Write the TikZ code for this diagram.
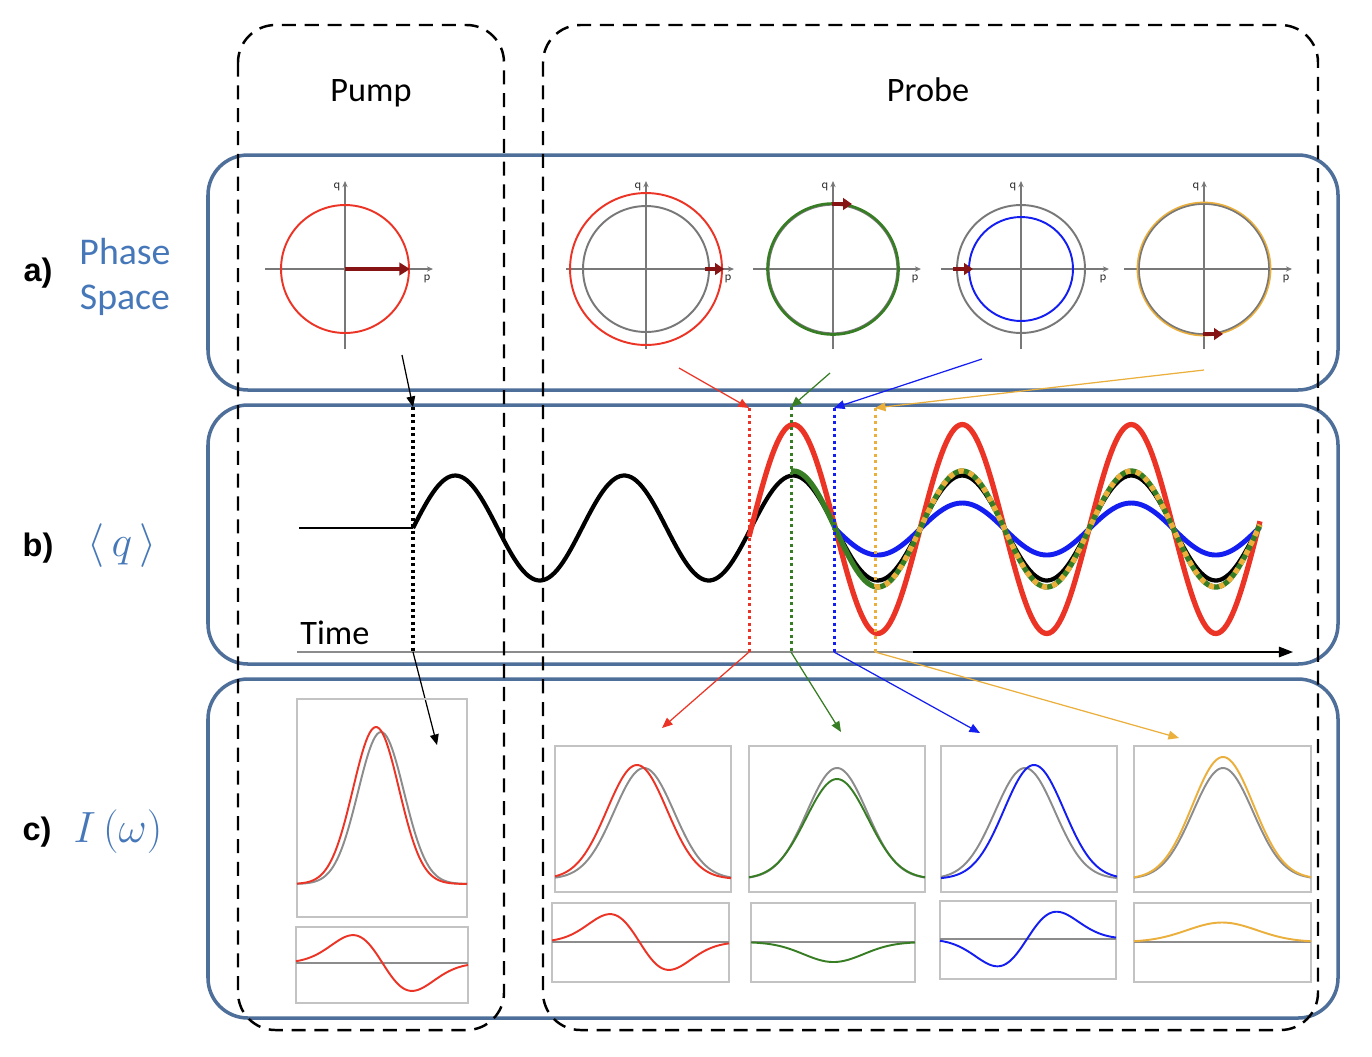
\documentclass[tikz,border=0pt]{standalone}
\usepackage{fontspec}
\setmainfont{Carlito}
\newfontfamily\arialfont{Liberation Sans}
\usetikzlibrary{arrows.meta}
\definecolor{boxblue}{RGB}{78,111,153}
\definecolor{txtblue}{RGB}{70,120,185}
\definecolor{myred}{RGB}{236,52,38}
\definecolor{dred}{RGB}{135,20,20}
\definecolor{mygreen}{RGB}{55,125,35}
\definecolor{myblue}{RGB}{20,30,240}
\definecolor{myorange}{RGB}{235,175,60}
\definecolor{axgray}{RGB}{120,120,120}
\definecolor{curvegray}{RGB}{140,140,140}
\definecolor{framegray}{RGB}{195,195,195}
\newcommand{\phaxes}[3]{%
  \draw[axis] (#1-80,#2) -- (#1+88,#2);
  \draw[axis] (#1,#2+80) -- (#1,#2-88);
  \node[smalllab] (q#3) at (#1-8,#2-82) {q};
  \node[smalllab] (p#3) at (#1+82,#2+10) {p};
}
\begin{document}
\begin{tikzpicture}[x=0.02cm, y=-0.02cm,
  bluebox/.style={draw=boxblue, line width=2pt, rounded corners=0.8cm},
  dashbox/.style={draw=black, line width=1.4pt, dash pattern=on 8pt off 5pt, rounded corners=0.75cm},
  axis/.style={draw=axgray, line width=0.6pt, -{Stealth[length=3.5pt,width=3pt]}},
  smalllab/.style={font=\sffamily\fontsize{7}{8}\selectfont, text=black!80, inner sep=0pt},
  ring/.style={line width=1.1pt},
  darr/.style={draw=dred, line width=2.4pt, -{Triangle[length=6pt,width=7pt]}},
  darrs/.style={draw=dred, line width=2.2pt, -{Triangle[length=5pt,width=6.5pt]}},
  conn/.style={line width=0.7pt, -{Triangle[length=6pt,width=5pt]}},
  vdot/.style={line width=1.7pt, dash pattern=on 1.7pt off 2pt},
  frame/.style={draw=framegray, line width=0.9pt},
  gcurve/.style={draw=curvegray, line width=1.1pt},
  ccurve/.style={line width=1.1pt},
  bigtxt/.style={font=\fontsize{19.5}{22}\selectfont, inner sep=0pt},
  lettxt/.style={font=\arialfont\bfseries\fontsize{18.5}{22}\selectfont, inner sep=0pt},
  bluetxt/.style={text=txtblue, font=\fontsize{21.5}{24}\selectfont, inner sep=0pt},
  mathtxt/.style={text=txtblue, font=\fontsize{23}{26}\selectfont, inner sep=0pt}
]
\useasboundingbox (0,0) rectangle (1372,1056);
\fill[white] (0,0) rectangle (1372,1056);

% blue panels
\draw[bluebox] (208,155) rectangle (1338,390);
\draw[bluebox] (208,405) rectangle (1338,664);
\draw[bluebox] (208,679) rectangle (1338,1018);

% labels
\node[bigtxt, anchor=base] (pump) at (371,101) {Pump};
\node[bigtxt, anchor=base] (probe) at (928,101) {Probe};
\node[lettxt] (la) at (38,273) {a)};
\node[lettxt] (lb) at (38,548) {b)};
\node[lettxt] (lc) at (37,832) {c)};
\node[bluetxt] (phase) at (125,252) {Phase};
\node[bluetxt] (space) at (125,300) {Space};
\node[mathtxt] (lq) at (122,546) {$\langle\, q\,\rangle$};
\node[mathtxt] (lI) at (118,832) {$I\,(\omega)$};

% phase space row
\phaxes{345}{269}{1}
\draw[myred, ring] (345,269) circle[radius=1.28cm];
\draw[darr] (345,269) -- (410,269);

\phaxes{646}{269}{2}
\draw[axgray, ring] (646,269) circle[radius=1.26cm];
\draw[myred, ring] (646,269) circle[radius=1.52cm];
\draw[darrs] (705,269) -- (724,269);

\phaxes{833}{269}{3}
\draw[axgray, line width=1.3pt] (833,269) circle[radius=1.29cm];
\draw[mygreen, line width=1.5pt] (833,269) circle[radius=1.31cm];
\draw[darrs] (832,204) -- (852,204);

\phaxes{1021}{269}{4}
\draw[axgray, ring] (1021,269) circle[radius=1.28cm];
\draw[myblue, ring] (1021,269) circle[radius=1.04cm];
\draw[darrs] (953,269) -- (973,269);

\phaxes{1204}{269}{5}
\draw[myorange, line width=1.6pt] (1204,269) circle[radius=1.32cm];
\draw[axgray, line width=0.9pt] (1204,269) circle[radius=1.30cm];
\draw[darrs] (1203,334) -- (1223,334);

% time axis
\coordinate (t0) at (297,652);
\coordinate (t1) at (1293,652);
\coordinate (tg) at (913,652);
\draw[line width=0.7pt, -{Triangle[length=8pt,width=6pt]}] (t0) -- (t1);
\draw[curvegray, line width=1.5pt] (t0) -- (tg);
\node[bigtxt, anchor=base west] (time) at (300,644) {Time};

% waves
\draw[black, line width=1.3pt] (299,528) -- (413,528);
\draw[black, line width=2.4pt] plot[domain=413:1260, samples=300] (\x,{528-52.5*sin((\x-413)*2.13018)});
\draw[myred, line width=3pt] plot[domain=749:1260, samples=200] (\x,{529-104.5*sin((\x-413)*2.13018)});
\draw[myblue, line width=2.8pt] plot[domain=834:1260, samples=180] (\x,{529-26*sin((\x-413)*2.13018)});
\draw[mygreen, line width=3pt] plot[domain=791:1260, samples=200] (\x,{529-58*sin((\x-413)*2.13018)});
\draw[myorange, line width=3pt, dash pattern=on 3pt off 3pt] plot[domain=875:1260, samples=180] (\x,{529-58*sin((\x-413)*2.13018)});

% connectors: pump
\coordinate (ka) at (402,355);
\coordinate (kb) at (413,407);
\coordinate (kc) at (413,652);
\coordinate (kd) at (437,745);
\draw[conn, black] (ka) -- (kb);
\draw[vdot, black, line width=1.8pt] (kb) -- (kc);
\draw[conn, black] (kc) -- (kd);
% red
\coordinate (ra) at (679,368);
\coordinate (rb) at (749,408);
\coordinate (rc) at (749,652);
\coordinate (rd) at (662,728);
\draw[conn, myred] (ra) -- (rb);
\draw[vdot, myred] (rb) -- (rc);
\draw[conn, myred] (rc) -- (rd);
% green
\coordinate (ga) at (830,373);
\coordinate (gb) at (791,407);
\coordinate (gc) at (791,652);
\coordinate (gd) at (841,732);
\draw[conn, mygreen] (ga) -- (gb);
\draw[vdot, mygreen] (gb) -- (gc);
\draw[conn, mygreen] (gc) -- (gd);
% blue
\coordinate (ba) at (982,359);
\coordinate (bb) at (834,408);
\coordinate (bc) at (834,652);
\coordinate (bd) at (980,733);
\draw[conn, myblue] (ba) -- (bb);
\draw[vdot, myblue] (bb) -- (bc);
\draw[conn, myblue] (bc) -- (bd);
% orange
\coordinate (oa) at (1204,370);
\coordinate (ob) at (875,408);
\coordinate (oc) at (875,652);
\coordinate (od) at (1179,738);
\draw[conn, myorange] (oa) -- (ob);
\draw[vdot, myorange] (ob) -- (oc);
\draw[conn, myorange] (oc) -- (od);

% spectra: pump
\draw[frame] (297,699) rectangle (467,917);
\draw[gcurve] plot[domain=297:467, samples=90] (\x,{884-152*exp(-0.5*((\x-381)/23)^2)});
\draw[ccurve, myred] plot[domain=297:467, samples=90] (\x,{884-157*exp(-0.5*((\x-376)/23)^2)});
\draw[frame] (296,927) rectangle (468,1003);
\draw[gcurve, line width=1.3pt] (296,963) -- (468,963);
\draw[ccurve, myred] plot[domain=296:468, samples=90] (\x,{963+46*((\x-382.5)/29.5)*exp(-0.5*((\x-382.5)/29.5)^2)});

% probe 1
\draw[frame] (555,746) rectangle (731,892);
\draw[gcurve] plot[domain=555:731, samples=90] (\x,{879-111*exp(-0.5*((\x-644)/30)^2)});
\draw[ccurve, myred] plot[domain=555:731, samples=90] (\x,{879-114*exp(-0.5*((\x-637)/30)^2)});
\draw[frame] (552,903) rectangle (729,982);
\draw[gcurve, line width=1.3pt] (552,942) -- (729,942);
\draw[ccurve, myred] plot[domain=552:729, samples=90] (\x,{942+46*((\x-639.5)/29.5)*exp(-0.5*((\x-639.5)/29.5)^2)});

% probe 2
\draw[frame] (749,746) rectangle (925,892);
\draw[gcurve] plot[domain=749:925, samples=90] (\x,{879-111*exp(-0.5*((\x-837)/30)^2)});
\draw[ccurve, mygreen] plot[domain=749:925, samples=90] (\x,{879-100*exp(-0.5*((\x-837)/31)^2)});
\draw[frame] (751,903) rectangle (915,982);
\draw[gcurve, line width=1.3pt] (751,942) -- (915,942);
\draw[ccurve, mygreen] plot[domain=751:915, samples=90] (\x,{942+20*exp(-0.5*((\x-833.5)/30)^2)});

% probe 3
\draw[frame] (941,746) rectangle (1117,892);
\draw[gcurve] plot[domain=941:1117, samples=90] (\x,{879-111*exp(-0.5*((\x-1025)/30)^2)});
\draw[ccurve, myblue] plot[domain=941:1117, samples=90] (\x,{879-114*exp(-0.5*((\x-1034)/30)^2)});
\draw[frame] (940,901) rectangle (1116,979);
\draw[gcurve, line width=1.3pt] (940,939) -- (1116,939);
\draw[ccurve, myblue] plot[domain=940:1116, samples=90] (\x,{939-45*((\x-1027)/29.6)*exp(-0.5*((\x-1027)/29.6)^2)});

% probe 4
\draw[frame] (1134,746) rectangle (1311,892);
\draw[gcurve] plot[domain=1134:1311, samples=90] (\x,{879-111*exp(-0.5*((\x-1223)/30)^2)});
\draw[ccurve, myorange] plot[domain=1134:1311, samples=90] (\x,{879-122*exp(-0.5*((\x-1223)/30.5)^2)});
\draw[frame] (1134,903) rectangle (1311,982);
\draw[gcurve, line width=1.3pt] (1134,942) -- (1311,942);
\draw[ccurve, myorange] plot[domain=1134:1311, samples=90] (\x,{942-19.5*exp(-0.5*((\x-1222)/35)^2)});

% dashed pump / probe frames
\draw[dashbox] (238,25) rectangle (504,1030);
\draw[dashbox] (543,25) rectangle (1318,1030);
\end{tikzpicture}
\end{document}
